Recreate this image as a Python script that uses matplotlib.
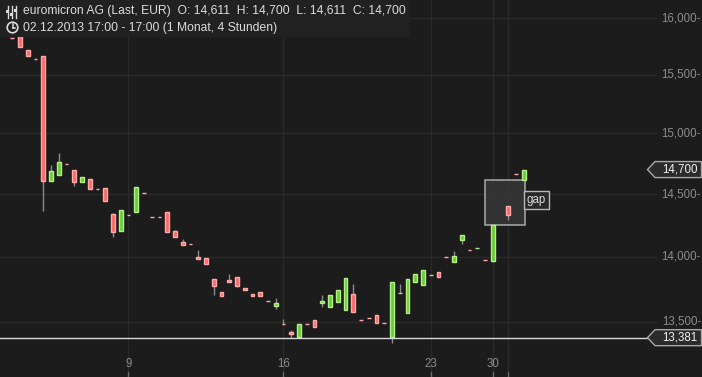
import matplotlib
matplotlib.use("Agg")
import matplotlib.pyplot as plt
from matplotlib.patches import Rectangle, Polygon, Circle
from matplotlib.transforms import IdentityTransform
from matplotlib.lines import Line2D

# ---------------- data (4-hour candles, slot index = session slot since 02.12.2013) ----
slots  = [4, 5, 6, 7, 8, 9, 10, 11, 12, 13, 14, 15, 16, 17, 18, 19, 20, 21, 22, 23,
          24, 25, 26, 27, 28, 29, 30, 31, 32, 33, 34, 35, 36, 37, 38, 39, 40, 41, 42, 43,
          44, 45, 46, 47, 48, 49, 50, 51, 52, 53, 54, 55, 56, 57, 58, 59, 60, 61, 62, 63,
          64, 65, 66, 67, 69, 70, 71]
opens  = [15.867, 15.821, 15.840, 15.716, 15.636, 15.664, 14.609, 14.658, 14.745, 14.697,
          14.596, 14.623, 14.545, 14.550, 14.340, 14.206, 14.330, 14.358, 14.507, 14.314,
          14.314, 14.356, 14.204, 14.117, 14.100, 13.999, 13.991, 13.828, 13.728, 13.820,
          13.843, 13.759, 13.713, 13.728, 13.660, 13.623, 13.483, 13.423, 13.389, 13.483,
          13.514, 13.645, 13.616, 13.653, 13.592, 13.713, 13.513, 13.528, 13.553, 13.491,
          13.389, 13.719, 13.570, 13.807, 13.784, 13.858, 13.882, 13.998, 13.962, 14.135,
          14.057, 14.070, 13.974, 13.970, 14.404, 14.662, 14.611]
highs  = [15.867, 15.821, 15.840, 15.716, 15.636, 15.664, 14.738, 14.840, 14.745, 14.697,
          14.637, 14.623, 14.545, 14.550, 14.348, 14.372, 14.330, 14.555, 14.507, 14.314,
          14.314, 14.356, 14.214, 14.143, 14.100, 14.054, 13.991, 13.828, 13.728, 13.867,
          13.843, 13.759, 13.713, 13.728, 13.660, 13.682, 13.522, 13.439, 13.484, 13.483,
          13.514, 13.705, 13.702, 13.743, 13.836, 13.789, 13.513, 13.528, 13.553, 13.491,
          13.805, 13.792, 13.828, 13.867, 13.898, 13.858, 13.882, 13.998, 14.046, 14.172,
          14.057, 14.071, 13.974, 14.252, 14.404, 14.662, 14.700]
lows   = [15.866, 15.820, 15.745, 15.666, 15.635, 14.364, 14.609, 14.658, 14.744, 14.568,
          14.596, 14.544, 14.544, 14.447, 14.156, 14.206, 14.329, 14.358, 14.506, 14.313,
          14.313, 14.198, 14.159, 14.096, 14.099, 13.986, 13.947, 13.705, 13.700, 13.805,
          13.764, 13.745, 13.700, 13.700, 13.659, 13.600, 13.482, 13.381, 13.389, 13.482,
          13.464, 13.616, 13.616, 13.653, 13.592, 13.578, 13.512, 13.527, 13.494, 13.490,
          13.344, 13.718, 13.570, 13.807, 13.784, 13.857, 13.846, 13.997, 13.962, 14.101,
          14.056, 14.070, 13.973, 13.962, 14.292, 14.661, 14.611]
closes = [15.866, 15.820, 15.745, 15.666, 15.635, 14.609, 14.689, 14.763, 14.744, 14.601,
          14.637, 14.544, 14.544, 14.447, 14.198, 14.372, 14.329, 14.555, 14.506, 14.313,
          14.313, 14.198, 14.159, 14.096, 14.099, 13.986, 13.947, 13.776, 13.700, 13.805,
          13.776, 13.745, 13.700, 13.700, 13.659, 13.642, 13.482, 13.410, 13.484, 13.482,
          13.464, 13.659, 13.702, 13.743, 13.836, 13.578, 13.512, 13.527, 13.494, 13.490,
          13.805, 13.718, 13.828, 13.867, 13.898, 13.857, 13.846, 13.997, 14.007, 14.172,
          14.056, 14.071, 13.973, 14.252, 14.334, 14.661, 14.700]

tick_slots  = [20, 40, 59, 67, 69]
tick_labels = ["9", "16", "23", "30", ""]
ytick_vals  = [16.0, 15.5, 15.0, 14.5, 14.0, 13.5]
ref_level   = 13.381
gap_from_slot, gap_to_slot = 67, 71
name = "euromicron AG (Last, EUR)"
period_text = "02.12.2013 17:00 - 17:00 (1 Monat, 4 Stunden)"

# ---------------- style ----------------
BG = "#1c1c1c"
GRID = "#2a2a2a"
RED_F, RED_E = "#ff6666", "#ffaaaa"
GRN_F, GRN_E = "#66cc33", "#b4f08a"
WICK = "#8a8a8a"
TXT = "#dcdcdc"
TICK = "#8c8c8c"
FONT = "Liberation Sans"

W, H = 702, 377
fig = plt.figure(figsize=(W / 100, H / 100), dpi=100, facecolor=BG)
ax = fig.add_axes([0, 0, 1, 1])
ax.set_facecolor(BG)
ax.set_yscale("log")
ax.set_xlim(3.42, 94.0)
ax.set_ylim(13.090, 16.162)
ax.set_axis_off()

def fmt(v):
    return f"{v:.3f}".replace(".", ",")

# grid
for v in ytick_vals:
    ax.axhline(v, xmin=0, xmax=0.935, color=GRID, lw=1, zorder=0)
for s in tick_slots:
    ax.axvline(s, color=GRID, lw=1, zorder=0)

# legend band
fig.add_artist(Rectangle((0, H - 36.5), 410, 36.5, transform=IdentityTransform(),
                         facecolor="#212121", edgecolor="none", zorder=0.5))

# gap box
gi0 = slots.index(gap_from_slot)
gi1 = slots.index(gap_to_slot)
g_lo, g_hi = closes[gi0], opens[gi1]
ax.add_patch(Rectangle((gap_from_slot - 0.95, g_lo), (gap_to_slot + 0.1) - (gap_from_slot - 0.95),
                       g_hi - g_lo, facecolor="#3a3a3a", alpha=0.75, edgecolor="#c8c8c8",
                       lw=1.2, zorder=2))
ax.text(gap_to_slot + 0.4, 14.452, "gap", color=TXT, fontsize=8.3, family=FONT,
        ha="left", va="center", zorder=5,
        bbox=dict(boxstyle="square,pad=0.25", facecolor="#2a2a2a", edgecolor="#b8b8b8", lw=1))

# candles
bw = 0.5
for s, o, h, l, c in zip(slots, opens, highs, lows, closes):
    up = c > o
    fc, ec = (GRN_F, GRN_E) if up else (RED_F, RED_E)
    ax.plot([s, s], [l, h], color=WICK, lw=1, zorder=3, solid_capstyle="butt")
    ax.add_patch(Rectangle((s - bw / 2, min(o, c)), bw, abs(c - o), facecolor=fc,
                           edgecolor=ec, lw=1, zorder=4))

# reference line
ax.axhline(ref_level, xmin=0, xmax=647.5 / W, color="#d8d8d8", lw=1, zorder=4)

# y tick labels
for v in ytick_vals:
    ax.text(0.9985, v, fmt(v) + "-", transform=ax.get_yaxis_transform(), color=TICK,
            fontsize=8.3, family=FONT, ha="right", va="center")

# x tick labels and tick marks
for s, lab in zip(tick_slots, tick_labels):
    xd = ax.transData.transform((s, 14.0))[0]
    fig.add_artist(Line2D([xd, xd], [0, 5], transform=IdentityTransform(), color="#6a6a6a", lw=1))
    if lab:
        fig.text(xd / W, (H - 364) / H, lab, color=TICK, fontsize=8.3, family=FONT,
                 ha="center", va="center")

# price labels with arrows
def price_tag(v):
    yd = ax.transData.transform((0, v))[1]
    pts = [(647.5, yd), (655, yd + 8), (701.5, yd + 8), (701.5, yd - 8), (655, yd - 8)]
    fig.add_artist(Polygon(pts, closed=True, transform=IdentityTransform(),
                           facecolor="#2b2b2b", edgecolor="#a8a8a8", lw=1, zorder=6))
    fig.text(697.5 / W, yd / H, fmt(v), color="#f2f2f2", fontsize=8.3, family=FONT,
             ha="right", va="center", zorder=7)

price_tag(closes[-1])
price_tag(ref_level)

# legend texts
o, h, l, c = opens[-1], highs[-1], lows[-1], closes[-1]
line1 = f"{name}  O: {fmt(o)}  H: {fmt(h)}  L: {fmt(l)}  C: {fmt(c)}"
fig.text(23 / W, (H - 11) / H, line1, color=TXT, fontsize=8.75, family=FONT,
         ha="left", va="center")
fig.text(23 / W, (H - 27.5) / H, period_text, color=TXT, fontsize=8.75, family=FONT,
         ha="left", va="center")

# slider icon
for xi, knob in [(7.5, 11.5), (11.5, 14.5), (15.5, 10.5)]:
    fig.add_artist(Line2D([xi, xi], [H - 18, H - 6], transform=IdentityTransform(),
                          color=TXT, lw=1))
    fig.add_artist(Rectangle((xi - 1.5, H - knob - 1.5), 3, 3, transform=IdentityTransform(),
                             facecolor=TXT, edgecolor="none"))
# clock icon
cx, cy = 12.5, H - 27.5
fig.add_artist(Circle((cx, cy), 5.3, transform=IdentityTransform(), facecolor="none",
                      edgecolor=TXT, lw=1.2))
fig.add_artist(Line2D([cx, cx], [cy, cy + 3.5], transform=IdentityTransform(), color=TXT, lw=1.1))
fig.add_artist(Line2D([cx, cx + 2.8], [cy, cy], transform=IdentityTransform(), color=TXT, lw=1.1))

fig.savefig("out.png", dpi=100, facecolor=BG)
